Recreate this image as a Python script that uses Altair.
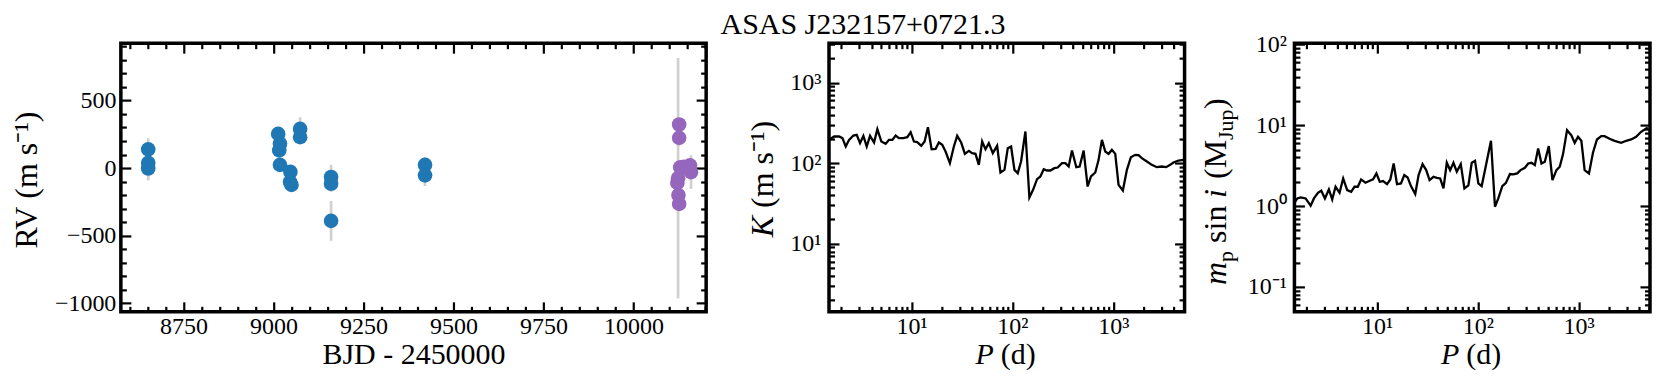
import altair as alt
import pandas as pd

FONT = "Liberation Serif"
H = 269
W1 = 586
W2 = 356
BLUE = "#1f77b4"
PURPLE = "#9467bd"
ERRC = "#d0d0d0"
NB = "\u00a0"

# ---------------- data ----------------
title_text = "ASAS J232157+0721.3"

blue_t = [8652, 8652, 8652, 9013, 9018, 9016, 9018, 9047, 9046, 9050, 9074, 9074, 9160, 9160, 9160, 9421, 9421]
blue_rv = [138, 38, -3, 253, 180, 131, 24, -28, -103, -125, 290, 229, -66, -116, -391, 24, -54]
blue_err = [82, 60, 88, 40, 40, 40, 40, 45, 45, 45, 86, 50, 90, 60, 148, 57, 79]

purple_t = [10127, 10127, 10130, 10140, 10124, 10122, 10125, 10127, 10157, 10160]
purple_rv = [323, 224, 5, 10, -75, -110, -200, -265, 20, -30]
purple_err = [40, 40, 40, 40, 890, 40, 40, 40, 40, 125]

period_k = [1.519, 1.702, 1.908, 2.058, 2.221, 2.396, 2.645, 2.853, 3.078, 3.323,
            3.585, 3.868, 4.238, 4.572, 5.008, 5.528, 5.965, 6.437, 6.944, 7.491,
            8.271, 9.061, 9.775, 10.55, 11.38, 12.46, 13.45, 14.51, 15.78, 17.29,
            18.65, 20.12, 21.71, 23.96, 26.25, 28.32, 31.02, 33.74, 36.96, 39.88,
            43.02, 46.42, 50.08, 54.03, 58.30, 63.89, 70.50, 76.06, 83.34, 89.92,
            97.0, 104.7, 112.9, 121.8, 134.5, 147.3, 160.2, 175.5, 189.4, 204.3,
            220.4, 237.8, 260.5, 281.1, 310.2, 334.8, 361.2, 389.8, 430.2, 464.2,
            508.6, 557.1, 601.1, 663.4, 715.7, 772.3, 833.4, 899.2, 970.1, 1047,
            1129, 1246, 1366, 1496, 1651, 1781, 1922, 2154, 2414, 2705,
            3032, 3348, 3668, 3957, 4436, 4972]
k_amp = [195, 214.5, 214.5, 204.5, 161.1, 195, 220.7, 224.9, 177.2, 218.6,
         161.1, 218.6, 180.6, 264.5, 185.8, 173.9, 195, 195, 220.7, 204.5,
         204.5, 210.4, 242.7, 185.8, 182.4, 164.2, 185.8, 280.1, 149.2, 150.7,
         180.6, 169.0, 139.6, 100, 161.1, 218.6, 180.6, 130.6, 142.3, 133.1,
         130.6, 95.3, 185.8, 149.2, 177.2, 133.1, 164.2, 76.6, 82.6, 153.6,
         161.1, 82.6, 75.1, 104.9, 247.4, 37.5, 46.6, 63.3, 68.3, 84.2,
         81.1, 81.1, 86.7, 88.3, 100, 100, 90.9, 143.7, 89.2, 90.9,
         143.7, 51.3, 68.3, 76.6, 110.0, 195, 139.6, 130.6, 146.5, 130.6,
         53.8, 45.7, 82.6, 118.7, 126.9, 125.7, 115.4, 104.9, 95.3, 89.2,
         90.9, 89.2, 95.3, 101.9, 107.9, 110.0]

period_m = [1.501, 1.619, 1.747, 1.957, 2.193, 2.366, 2.592, 2.796, 3.039, 3.328,
            3.591, 3.874, 4.244, 4.612, 5.052, 5.534, 5.969, 6.441, 6.947, 7.668,
            8.464, 9.131, 9.849, 10.63, 11.47, 12.56, 13.54, 14.61, 15.77, 17.27,
            18.63, 20.10, 21.69, 23.93, 25.82, 28.28, 30.73, 33.16, 36.32, 39.18,
            42.27, 45.60, 49.19, 53.07, 57.25, 61.78, 67.67, 73.55, 80.57, 86.91,
            93.76, 101.1, 109.1, 117.7, 134.9, 147.8, 159.5, 174.7, 189.9, 208.0,
            224.4, 245.7, 265.1, 292.6, 315.7, 340.5, 367.4, 396.3, 427.6, 461.2,
            505.3, 549.2, 601.5, 648.9, 699.9, 766.8, 846.3, 913.0, 984.9, 1063,
            1146, 1265, 1386, 1518, 1675, 1807, 2025, 2269, 2641, 2960,
            3316, 3716, 4164, 4845]
m_sini = [1.079, 1.244, 1.280, 1.244, 1.010, 1.244, 1.462, 1.548, 1.244, 1.608,
          1.209, 1.735, 1.462, 2.199, 1.578, 1.504, 1.735, 1.735, 2.138, 1.944,
          2.058, 2.138, 2.536, 2.000, 2.039, 1.872, 2.138, 3.372, 1.872, 1.907,
          2.418, 2.262, 1.768, 1.408, 2.418, 3.308, 2.789, 2.097, 2.306, 2.241,
          2.199, 1.654, 3.437, 2.789, 3.437, 2.659, 3.308, 1.654, 1.802, 3.437,
          3.638, 1.907, 1.768, 2.789, 6.43, 0.981, 1.244, 1.768, 1.944, 2.489,
          2.465, 2.536, 2.789, 2.981, 3.372, 3.437, 3.216, 5.169, 3.372, 3.536,
          5.524, 2.097, 2.789, 3.066, 4.399, 8.712, 7.521, 6.073, 7.205, 6.430,
          2.789, 2.536, 4.569, 6.679, 7.345, 7.345, 6.808, 6.430, 6.073, 6.430,
          6.679, 7.205, 8.309, 9.401]

bjd_labels = [8750, 9000, 9250, 9500, 9750, 10000]
rv_labels = [-1000, -500, 0, 500]
p_labels = [10, 100, 1000]
k_labels = [10, 100, 1000]
m_labels = [0.1, 1, 10, 100]

# ---------------- helpers ----------------
bjd_ticks = list(range(8600, 10201, 50))
rv_ticks = list(range(-1000, 901, 100))


def log_ticks(lo, hi, emin, emax):
    out = []
    for e in range(emin, emax + 1):
        for m in range(1, 10):
            v = round(m * 10.0 ** e, 6)
            if lo <= v <= hi:
                out.append(v)
    return out


P_DOM = [1.515, 5100]
K_DOM = [1.42, 3100]
M_DOM = [0.049, 104]
p_ticks = log_ticks(P_DOM[0], P_DOM[1], 0, 3)
k_ticks = log_ticks(K_DOM[0], K_DOM[1], 0, 3)
m_ticks = log_ticks(M_DOM[0], M_DOM[1], -2, 2)

LOG_MAJOR = "abs(log(datum.value)/LN10 - round(log(datum.value)/LN10)) < 0.001"


def tick_axis(orient, offset, values, major_test):
    return alt.Axis(orient=orient, offset=offset, values=values, labels=False,
                    domain=False, grid=False, title=None, ticks=True,
                    tickColor="black", tickWidth=2.2,
                    tickSize={"condition": {"test": major_test, "value": 10}, "value": 5.5})


def label_axis(orient, values, pad, **kw):
    return alt.Axis(orient=orient, values=values, ticks=False, domain=False,
                    grid=False, labelPadding=pad, labelFont=FONT, labelFontSize=24,
                    labelColor="black", **kw)


def carriers(data, xf, yf, xs, ys, axes):
    out = []
    for xa, ya in axes:
        out.append(alt.Chart(data).mark_point(opacity=0).encode(
            x=alt.X(xf, type="quantitative", scale=xs, axis=xa),
            y=alt.Y(yf, type="quantitative", scale=ys, axis=ya)))
    return out


one = pd.DataFrame({"a": [0]})


def txt(text, x, y, size=30, style="normal", angle=0, align="left", baseline="alphabetic"):
    return alt.Chart(one).mark_text(text=text, font=FONT, fontSize=size, fontStyle=style,
                                    angle=angle, align=align, baseline=baseline,
                                    color="black").encode(x=alt.value(x), y=alt.value(y))


# ---------------- panel 1: RV ----------------
pts = pd.DataFrame({
    "t": blue_t + purple_t,
    "rv": blue_rv + purple_rv,
    "err": blue_err + purple_err,
    "inst": ["A"] * len(blue_t) + ["B"] * len(purple_t),
})
pts["lo"] = pts["rv"] - pts["err"]
pts["hi"] = pts["rv"] + pts["err"]

xs1 = alt.Scale(domain=[8576, 10202], nice=False, zero=False)
ys1 = alt.Scale(domain=[-1065, 925], nice=False, zero=False)

XTY = 52  # x-title baseline below the plot
ax1 = [
    (label_axis("bottom", bjd_labels, 3, format="d", title="BJD - 2450000",
                titleFont=FONT, titleFontSize=30, titleFontWeight="normal", titleColor="black",
                titleX=W1 / 2, titleY=XTY, titleBaseline="alphabetic", titleAlign="center"),
     label_axis("left", rv_labels, 5, format="d", title="RV" + NB + "(m" + NB + "s⁻¹)",
                titleFont=FONT, titleFontSize=32, titleFontWeight="normal", titleColor="black",
                titleX=-84, titleY=H / 2 + 2, titleBaseline="alphabetic", titleAlign="center",
                titleAngle=270)),
    (tick_axis("top", -H, bjd_ticks, "datum.value % 250 === 0"),
     tick_axis("right", -W1, rv_ticks, "datum.value % 500 === 0")),
    (tick_axis("bottom", -H, bjd_ticks, "datum.value % 250 === 0"),
     tick_axis("left", -W1, rv_ticks, "datum.value % 500 === 0")),
]

err_layer = alt.Chart(pts).mark_rule(color=ERRC, strokeWidth=2.7).encode(
    x=alt.X("t:Q", scale=xs1, axis=None),
    y=alt.Y("lo:Q", scale=ys1, axis=None),
    y2="hi:Q")
pt_layer = alt.Chart(pts).mark_circle(size=215, opacity=1).encode(
    x=alt.X("t:Q", scale=xs1, axis=None),
    y=alt.Y("rv:Q", scale=ys1, axis=None),
    color=alt.Color("inst:N", scale=alt.Scale(domain=["A", "B"], range=[BLUE, PURPLE]), legend=None))

p1 = alt.layer(*carriers(pts, "t", "rv", xs1, ys1, ax1), err_layer, pt_layer).resolve_axis(
    x="independent", y="independent").properties(width=W1, height=H)

# ---------------- panel 2: K ----------------
kdf = pd.DataFrame({"P": period_k, "K": k_amp})
xs2 = alt.Scale(type="log", domain=P_DOM, nice=False)
ys2 = alt.Scale(type="log", domain=K_DOM, nice=False)
EXP3 = "datum.value < 50 ? '10¹' : datum.value < 500 ? '10²' : '10³'"
EXPM = "datum.value < 0.5 ? '10⁻¹' : datum.value < 5 ? '10⁰' : datum.value < 50 ? '10¹' : '10²'"

ax2 = [
    (label_axis("bottom", p_labels, 3, labelExpr=EXP3, title=None),
     label_axis("left", k_labels, 8, labelExpr=EXP3, title=None)),
    (tick_axis("top", -H, p_ticks, LOG_MAJOR), tick_axis("right", -W2, k_ticks, LOG_MAJOR)),
    (tick_axis("bottom", -H, p_ticks, LOG_MAJOR), tick_axis("left", -W2, k_ticks, LOG_MAJOR)),
]
k_line = alt.Chart(kdf).mark_line(color="black", strokeWidth=2.3, clip=True).encode(
    x=alt.X("P:Q", scale=xs2, axis=None), y=alt.Y("K:Q", scale=ys2, axis=None))

XT = 165
p2_text = [
    txt("P", XT, H + XTY, style="italic", align="right"),
    txt("(d)", XT + 7, H + XTY, align="left"),
    txt("K", -56, 173, size=32, style="italic", angle=270, align="right"),
    txt("(m" + NB + "s⁻¹)", -56, 165, size=32, angle=270, align="left"),
    txt(title_text, 34, -9, align="center"),
]
p2 = alt.layer(*carriers(kdf, "P", "K", xs2, ys2, ax2), k_line, *p2_text).resolve_axis(
    x="independent", y="independent").properties(width=W2, height=H)

# ---------------- panel 3: m sin i ----------------
mdf = pd.DataFrame({"P": period_m, "M": m_sini})
ys3 = alt.Scale(type="log", domain=M_DOM, nice=False)
ax3 = [
    (label_axis("bottom", p_labels, 3, labelExpr=EXP3, title=None),
     label_axis("left", m_labels, 8, labelExpr=EXPM, title=None)),
    (tick_axis("top", -H, p_ticks, LOG_MAJOR), tick_axis("right", -W2, m_ticks, LOG_MAJOR)),
    (tick_axis("bottom", -H, p_ticks, LOG_MAJOR), tick_axis("left", -W2, m_ticks, LOG_MAJOR)),
]
m_line = alt.Chart(mdf).mark_line(color="black", strokeWidth=2.3, clip=True).encode(
    x=alt.X("P:Q", scale=xs2, axis=None), y=alt.Y("M:Q", scale=ys3, axis=None))

BX = -69
p3_text = [
    txt("P", XT, H + XTY, style="italic", align="right"),
    txt("(d)", XT + 7, H + XTY, align="left"),
    txt("m", BX, 242, size=32, style="italic", angle=270),
    txt("p", BX + 7, 219, size=22, angle=270),
    txt("sin", BX, 200, size=32, angle=270),
    txt("i", BX, 155, size=32, style="italic", angle=270),
    txt("(M", BX, 136, size=32, angle=270),
    txt("Jup", BX + 7, 97, size=22, angle=270),
    txt(")", BX, 66, size=32, angle=270),
]
p3 = alt.layer(*carriers(mdf, "P", "M", xs2, ys3, ax3), m_line, *p3_text).resolve_axis(
    x="independent", y="independent").properties(width=W2, height=H)

right = alt.hconcat(p2, p3, spacing=110, bounds="flush")
chart = alt.hconcat(p1, right, spacing=123, bounds="flush").properties(
    padding={"left": 1, "top": 0, "right": 0, "bottom": 0},
    background="white",
).configure_view(stroke="black", strokeWidth=3.5)

chart.save("out.html", embed_options={"renderer": "svg", "actions": False})
